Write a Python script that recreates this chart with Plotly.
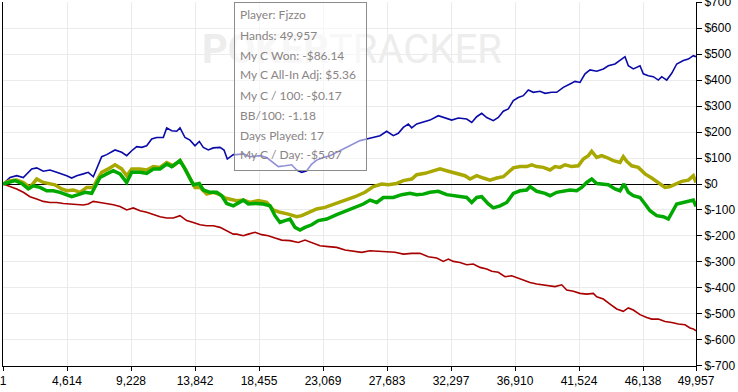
import plotly.graph_objects as go

# ---------------- data ----------------
blue_hands = [1, 505, 988, 1463, 2069, 2429, 2905, 3388, 3871, 4232, 4592, 4953, 5313, 5789, 6149, 6510,
              6870, 7115, 7476, 8074, 8557, 8918, 9278, 9638, 9999, 10359, 10720, 11080, 11556, 11801,
              12162, 12522, 12760, 13120, 13481, 13841, 14151, 14440, 14800, 15161, 15644, 15932, 16170,
              16602, 16847, 17323, 17806, 18527, 19010, 19486, 19846, 20329, 20812, 21173, 21533, 21894,
              22254, 22615, 23090, 23573, 24294, 25015, 25736, 26219, 26695, 27178, 27661, 28137, 28497,
              28858, 29218, 29463, 29824, 30300, 30782, 31381, 31864, 32347, 32823, 33428, 33789, 34149,
              34510, 34870, 35346, 35706, 36067, 36427, 36788, 37148, 37509, 37869, 38229, 38712, 39073,
              39556, 39916, 40392, 40875, 41235, 41596, 41956, 42317, 42800, 43276, 43636, 44119, 44480,
              44840, 45078, 45438, 45921, 46159, 46520, 46880, 47241, 47486, 47846, 48207, 48567, 49043,
              49404, 49764, 49957]
blue_vals = [0, 25, 32, 25, 58, 62, 49, 54, 45, 39, 32, 23, 32, 39, 45, 28,
             70, 105, 113, 131, 122, 109, 128, 144, 141, 147, 173, 179, 179, 216,
             205, 203, 216, 179, 169, 147, 164, 141, 131, 139, 141, 131, 96,
             113, 113, 116, 105, 109, 102, 83, 67, 70, 74, 54, 45, 51,
             77, 92, 102, 109, 128, 147, 167, 173, 179, 186, 203, 186, 195,
             218, 231, 216, 231, 237, 246, 263, 254, 246, 254, 250, 237, 259,
             272, 256, 244, 256, 280, 289, 321, 333, 340, 362, 353, 357, 349,
             353, 353, 372, 385, 395, 391, 424, 439, 434, 443, 455, 462, 475,
             490, 455, 443, 455, 424, 417, 413, 400, 413, 400, 426, 462, 475,
             481, 494, 490]

olive_hands = [1, 505, 988, 1463, 1946, 2429, 2905, 3388, 3749, 4232, 4592, 5068, 5551, 6034, 6510,
               6755, 7115, 7591, 8074, 8557, 8918, 9278, 9876, 10359, 10835, 11318, 11801, 12277, 12760,
               13120, 13481, 13841, 14202, 14685, 15161, 15644, 16004, 16364, 16847, 17323, 17806, 18405,
               19010, 19486, 19969, 20567, 21173, 21533, 22131, 22615, 23213, 23934, 24655, 25376, 26097,
               26695, 27301, 27776, 28382, 28858, 29463, 29824, 30422, 31020, 31503, 32102, 32708, 33306,
               33666, 34149, 34625, 35108, 35591, 36067, 36427, 36788, 37271, 37754, 38114, 38474, 38950,
               39433, 39794, 40154, 40515, 40998, 41474, 41834, 42195, 42439, 42800, 43160, 43521, 43997,
               44480, 44717, 44963, 45323, 45799, 46282, 46764, 47241, 47724, 48084, 48444, 48927, 49404,
               49764, 49957]
olive_vals = [0, 13, 15, 6, -13, 19, 6, 2, -3, -19, -26, -23, -32, -13, -13,
              13, 45, 58, 74, 58, 32, 58, 58, 54, 67, 64, 83, 70, 90,
              58, 25, -13, -13, -39, -32, -41, -54, -58, -64, -62, -71, -64,
              -71, -100, -109, -116, -126, -122, -109, -96, -90, -77, -62, -49, -32,
              -10, 0, -3, 2, 13, 19, 36, 41, 49, 58, 49, 39, 32,
              19, 32, 23, 15, 23, 28, 45, 62, 67, 67, 74, 67, 64,
              54, 67, 64, 74, 67, 70, 96, 109, 126, 102, 109, 102, 90,
              83, 105, 87, 70, 64, 39, 23, 6, -13, -10, 0, 10, 15,
              32, 5.36]

green_hands = [1, 382, 865, 1348, 1824, 2184, 2667, 3150, 3626, 4109, 4592, 4953, 5428, 5911, 6394,
               6755, 6993, 7476, 7952, 8435, 8918, 9278, 9876, 10359, 10835, 11318, 11801, 12162, 12760,
               13120, 13481, 13719, 14151, 14440, 14923, 15406, 15766, 16127, 16602, 16847, 17323, 17684,
               18167, 18765, 19248, 19608, 19969, 20329, 20690, 21050, 21411, 21771, 22254, 22730, 23336,
               24056, 24777, 25376, 25974, 26457, 26940, 27416, 28137, 28742, 29341, 29824, 30300, 30782,
               31381, 31986, 32585, 33183, 33428, 33789, 34149, 34510, 34985, 35346, 35829, 36312, 36788,
               37271, 37754, 37991, 38474, 39073, 39433, 39916, 40392, 40875, 41358, 41718, 42079, 42439,
               42800, 43160, 43636, 44119, 44480, 44768, 45078, 45438, 45921, 46282, 46642, 47125, 47601,
               47962, 48207, 48567, 49043, 49526, 49764, 49957]
green_vals = [0, 6, 13, 2, -19, -7, -13, -26, -26, -32, -41, -49, -41, -32, -36,
              0, 25, 39, 51, 39, 6, 45, 45, 41, 58, 58, 77, 67, 90,
              58, 23, -3, 2, -23, -32, -32, -45, -75, -84, -77, -62, -77,
              -75, -77, -84, -122, -148, -141, -135, -167, -177, -167, -157, -141, -135,
              -118, -103, -90, -77, -62, -71, -52, -52, -41, -36, -41, -39, -32,
              -28, -41, -45, -52, -52, -71, -52, -49, -77, -92, -84, -71, -36,
              -26, -23, -10, -28, -36, -45, -32, -26, -23, -26, -13, 6, 19,
              2, 0, -3, -19, -26, 0, -32, -45, -52, -77, -103, -122, -126,
              -135, -109, -77, -71, -67, -62, -86.14]

red_hands = [1, 505, 988, 1463, 1946, 2429, 2905, 3388, 3871, 4347, 4830, 5313, 5789, 6149, 6510,
             6993, 7476, 7952, 8435, 8918, 9393, 9876, 10359, 10835, 11318, 11801, 12277, 12760, 13243,
             13719, 14202, 14685, 15161, 15644, 16127, 16602, 16847, 17323, 17684, 18167, 18650, 19125,
             19608, 20091, 20690, 21288, 21771, 22254, 22853, 23451, 24056, 24655, 25253, 25859, 26457,
             27055, 27661, 28259, 28858, 29463, 30062, 30660, 31265, 31741, 32102, 32462, 32945, 33428,
             33904, 34387, 34870, 35231, 35706, 36189, 36672, 37148, 37631, 37991, 38474, 38950, 39433,
             39794, 40277, 40637, 41113, 41596, 42079, 42555, 42800, 43276, 43759, 44242, 44717, 45078,
             45438, 45921, 46404, 46764, 47241, 47724, 48207, 48682, 49165, 49526, 49764, 49957]
red_vals = [0, -10, -19, -32, -49, -58, -67, -71, -71, -75, -77, -77, -81, -77, -67,
            -71, -75, -80, -87, -100, -92, -103, -109, -118, -126, -131, -131, -122, -141,
            -148, -157, -161, -161, -167, -180, -193, -193, -199, -193, -186, -195, -199,
            -208, -216, -218, -225, -216, -225, -238, -241, -244, -254, -259, -263, -257,
            -259, -263, -263, -270, -267, -267, -280, -285, -298, -289, -298, -302, -311,
            -308, -321, -327, -336, -340, -357, -353, -362, -370, -379, -385, -388, -392,
            -395, -388, -408, -413, -421, -424, -421, -434, -443, -462, -481, -490, -477,
            -485, -503, -514, -520, -520, -529, -533, -539, -542, -554, -558, -565]

x_ticks = [1, 4614, 9228, 13842, 18455, 23069, 27683, 32297, 36910, 41524, 46138, 49957]
y_ticks = list(range(-700, 701, 100))

tooltip_lines = ["Player: Fjzzo", "Hands: 49,957", "My C Won: -$86.14", "My C All-In Adj: $5.36",
                 "My C / 100: -$0.17", "BB/100: -1.18", "Days Played: 17", "My C / Day: -$5.07"]

# ---------------- layout geometry ----------------
W, H = 738, 392
ML, MR, MT, MB = 3, 42, 2, 26
PW, PH = W - ML - MR, H - MT - MB


def px(xp):
    return (xp - ML) / PW


def py(yp):
    return (H - MB - yp) / PH


fig = go.Figure()
fig.add_trace(go.Scatter(x=red_hands, y=red_vals, mode="lines",
                         line=dict(color="#A80000", width=1.6), hoverinfo="skip"))
fig.add_trace(go.Scatter(x=blue_hands, y=blue_vals, mode="lines",
                         line=dict(color="#0A0AA8", width=1.6), hoverinfo="skip"))
fig.add_trace(go.Scatter(x=olive_hands, y=olive_vals, mode="lines",
                         line=dict(color="#A8A800", width=3.5), hoverinfo="skip"))
fig.add_trace(go.Scatter(x=green_hands, y=green_vals, mode="lines",
                         line=dict(color="#00A800", width=3.5), hoverinfo="skip"))

axis_font = dict(family="Liberation Sans, Arial, sans-serif", size=12, color="#000000")

fig.update_layout(
    width=W, height=H,
    margin=dict(l=ML, r=MR, t=MT, b=MB, pad=0, autoexpand=False),
    paper_bgcolor="white", plot_bgcolor="white",
    showlegend=False,
    xaxis=dict(range=[0.5, 49957], tickmode="array", tickvals=x_ticks,
               ticktext=[f"{v:,}" for v in x_ticks], automargin=False,
               showgrid=True, gridcolor="#EBEBEB", gridwidth=1,
               showline=True, linecolor="#000000", linewidth=1,
               ticks="outside", ticklen=4, tickcolor="#000000",
               zeroline=False, tickfont=axis_font, ticklabeloverflow="allow"),
    yaxis=dict(range=[-700.6, 700.6], side="right", tickmode="array", tickvals=y_ticks,
               ticktext=[f"${v}" for v in y_ticks], automargin=False,
               showgrid=True, gridcolor="#EBEBEB", gridwidth=1,
               showline=True, mirror=True, linecolor="#000000", linewidth=1,
               ticks="outside", ticklen=5, tickcolor="#000000",
               zeroline=True, zerolinecolor="#000000", zerolinewidth=1,
               tickfont=axis_font, ticklabeloverflow="allow"),
)

annotations = []
# watermark
annotations.append(dict(xref="paper", yref="paper", x=px(352), y=py(50), xanchor="center", yanchor="middle",
                        text="<b>POKER</b>TRACKER", showarrow=False,
                        font=dict(family="Roboto, sans-serif", size=40, color="#EDEDED")))
# tooltip box
annotations.append(dict(xref="paper", yref="paper", x=px(234), y=py(2), xanchor="left", yanchor="top",
                        text=" ", showarrow=False, width=131, height=167,
                        bgcolor="rgba(255,255,255,0.55)", bordercolor="#8C8C8C", borderwidth=1, borderpad=0))
for i, line in enumerate(tooltip_lines):
    annotations.append(dict(xref="paper", yref="paper", x=px(238), y=py(15 + 20 * i),
                            xanchor="left", yanchor="middle", text=line, showarrow=False,
                            font=dict(family="Lato, sans-serif", size=12, color="#8A8484")))
fig.update_layout(annotations=annotations)

fig.write_html("out.html")
